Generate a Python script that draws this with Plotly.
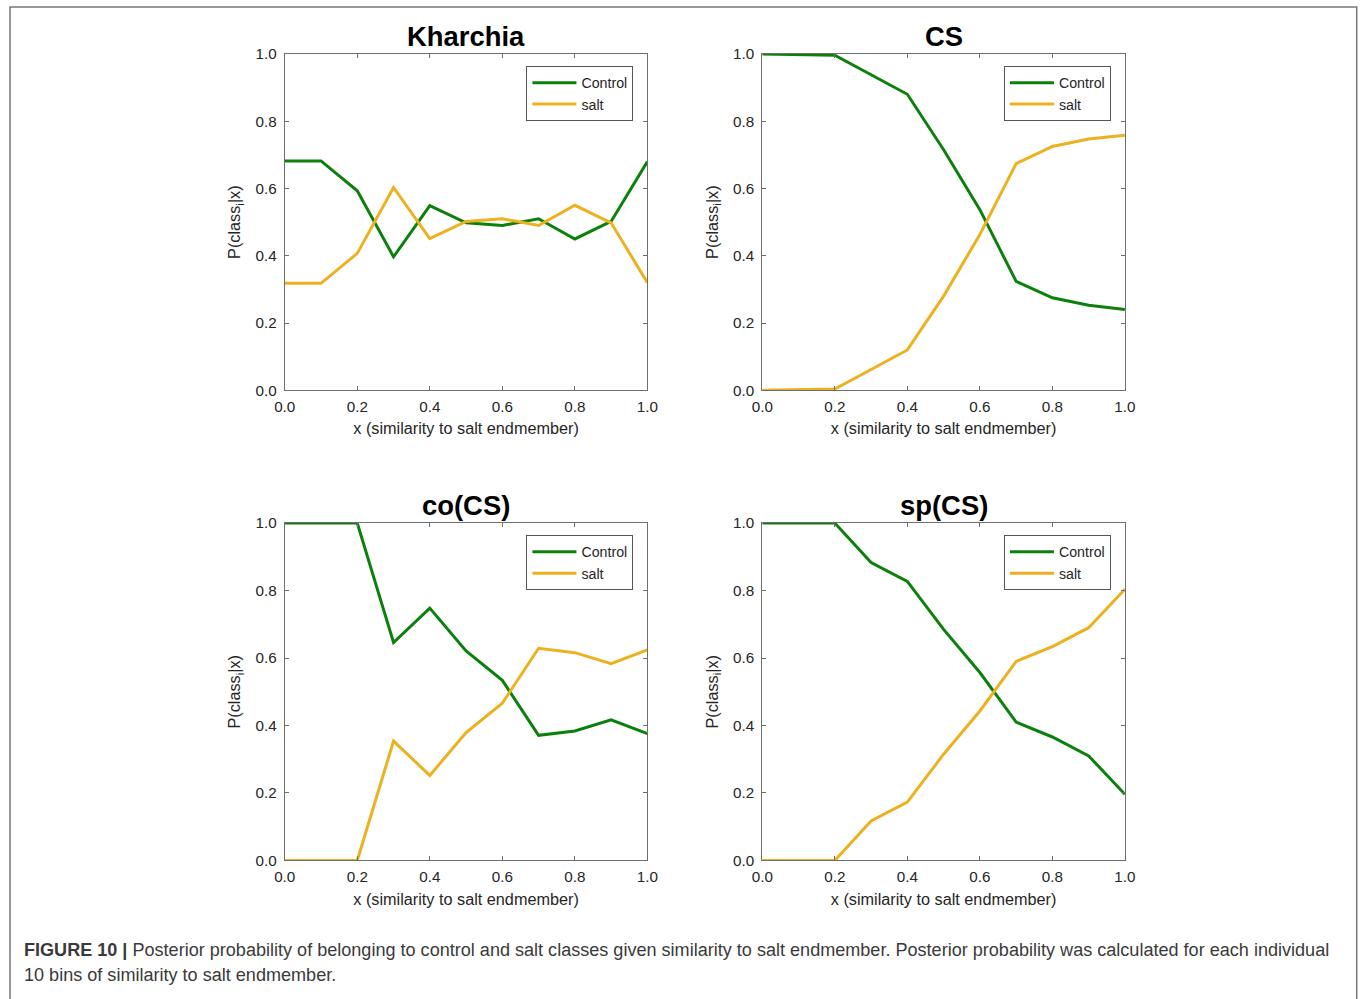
import plotly.graph_objects as go

x_vals = [0.0, 0.1, 0.2, 0.3, 0.4, 0.5, 0.6, 0.7, 0.8, 0.9, 1.0]

kharchia_control = [0.682, 0.682, 0.593, 0.397, 0.549, 0.498, 0.490, 0.510, 0.450, 0.502, 0.680]
kharchia_salt = [0.318, 0.318, 0.407, 0.603, 0.451, 0.502, 0.510, 0.490, 0.550, 0.498, 0.320]

cs_control = [1.0, 0.999, 0.996, 0.938, 0.880, 0.715, 0.537, 0.324, 0.275, 0.253, 0.240]
cs_salt = [0.0, 0.001, 0.004, 0.062, 0.120, 0.280, 0.463, 0.674, 0.725, 0.747, 0.758]

cocs_control = [1.0, 1.0, 1.0, 0.646, 0.748, 0.621, 0.534, 0.371, 0.384, 0.417, 0.376]
cocs_salt = [0.0, 0.0, 0.0, 0.354, 0.252, 0.379, 0.466, 0.629, 0.616, 0.583, 0.624]

spcs_control = [1.0, 1.0, 1.0, 0.883, 0.827, 0.685, 0.557, 0.410, 0.366, 0.310, 0.196]
spcs_salt = [0.0, 0.0, 0.0, 0.117, 0.173, 0.315, 0.443, 0.590, 0.634, 0.690, 0.804]

titles = ["Kharchia", "CS", "co(CS)", "sp(CS)"]
series_names = ["Control", "salt"]
tick_vals = [0.0, 0.2, 0.4, 0.6, 0.8, 1.0]
tick_text = ["0.0", "0.2", "0.4", "0.6", "0.8", "1.0"]

caption_lines = [
    "<b>FIGURE 10 |</b> Posterior probability of belonging to control and salt classes given "
    "similarity to salt endmember. Posterior probability was calculated for each individual",
    "10 bins of similarity to salt endmember.",
]

panels = [
    (kharchia_control, kharchia_salt),
    (cs_control, cs_salt),
    (cocs_control, cocs_salt),
    (spcs_control, spcs_salt),
]

# observed page-to-photo mapping: photo = offset + S * figure_px
S = 0.985
OX, OY = 9.0, 8.0
W, H = 1380, 1014


def fx(v):
    return (v - OX) / S


def fy(v):
    return (v - OY) / S


def px(v):
    return fx(v) / W


def py(v):
    return 1 - fy(v) / H


def fs(v):
    return v / S


GREEN = "#0b800b"
ORANGE = "#EDB120"
AXC = "#6e6e6e"
TXT = "#262626"
FONT = "Liberation Sans, Arial"

# pixel boxes in reference picture coords: (left, right, top, bottom)
boxes = [
    (283, 646, 53, 390),
    (761, 1124, 53, 390),
    (283, 646, 523, 861),
    (761, 1124, 523, 861),
]

fig = go.Figure()
layout = {}
annotations = []
for i, ((ctrl, salt), (l, r, t, b), title) in enumerate(zip(panels, boxes, titles)):
    n = i + 1
    xa = "x" if n == 1 else f"x{n}"
    ya = "y" if n == 1 else f"y{n}"
    lg = "legend" if n == 1 else f"legend{n}"
    for name, vals, col in [(series_names[0], ctrl, GREEN), (series_names[1], salt, ORANGE)]:
        fig.add_trace(go.Scatter(
            x=x_vals, y=vals, mode="lines", name=name,
            line=dict(color=col, width=3),
            xaxis=xa, yaxis=ya, legend=lg, showlegend=True,
        ))
    xkey = "xaxis" if n == 1 else f"xaxis{n}"
    ykey = "yaxis" if n == 1 else f"yaxis{n}"
    layout[xkey] = dict(
        domain=[px(l), px(r)], anchor=ya, range=[0, 1],
        tickvals=tick_vals, ticktext=tick_text, ticks="inside", ticklen=4,
        tickcolor=AXC, showline=True, linecolor=AXC, linewidth=1, mirror="ticks",
        showgrid=False, zeroline=False, ticklabelstandoff=2,
        tickfont=dict(family=FONT, size=fs(15), color=TXT),
        title=dict(text="x (similarity to salt endmember)", standoff=9,
                   font=dict(family=FONT, size=fs(16), color=TXT)),
    )
    layout[ykey] = dict(
        domain=[py(b), py(t)], anchor=xa, range=[0, 1],
        tickvals=tick_vals, ticktext=tick_text, ticks="inside", ticklen=4,
        tickcolor=AXC, showline=True, linecolor=AXC, linewidth=1, mirror="ticks",
        showgrid=False, zeroline=False, ticklabelstandoff=4,
        tickfont=dict(family=FONT, size=fs(15), color=TXT),
        title=dict(text="P(class<sub>i</sub>|x)", standoff=10,
                   font=dict(family=FONT, size=fs(16), color=TXT)),
    )
    layout[lg] = dict(
        x=px(r - 14), y=py(t + 12), xanchor="right", yanchor="top",
        xref="paper", yref="paper",
        bgcolor="white", bordercolor="#555555", borderwidth=1,
        font=dict(family=FONT, size=fs(14), color=TXT),
        tracegroupgap=0, itemwidth=44,
    )
    annotations.append(dict(
        x=px((l + r) / 2), y=py(t), xref="paper", yref="paper",
        xanchor="center", yanchor="bottom", yshift=0,
        text=f"<b>{title}</b>", showarrow=False,
        font=dict(family=FONT, size=fs(27), color="black"),
    ))

for line_text, yc in zip(caption_lines, [951, 976]):
    annotations.append(dict(
        x=px(20), y=py(yc), xref="paper", yref="paper",
        xanchor="left", yanchor="middle", align="left", showarrow=False,
        text=line_text,
        font=dict(family=FONT, size=fs(17.8), color="#3a3a3a"),
    ))

fig.update_layout(
    width=W, height=H,
    margin=dict(l=0, r=0, t=0, b=0),
    paper_bgcolor="white", plot_bgcolor="white",
    annotations=annotations,
    shapes=[dict(type="rect", xref="paper", yref="paper",
                 x0=px(8), x1=px(1356), y0=-0.05, y1=py(6),
                 line=dict(color="#777777", width=1.5), layer="below")],
    **layout,
)

fig.write_html("out.html")
